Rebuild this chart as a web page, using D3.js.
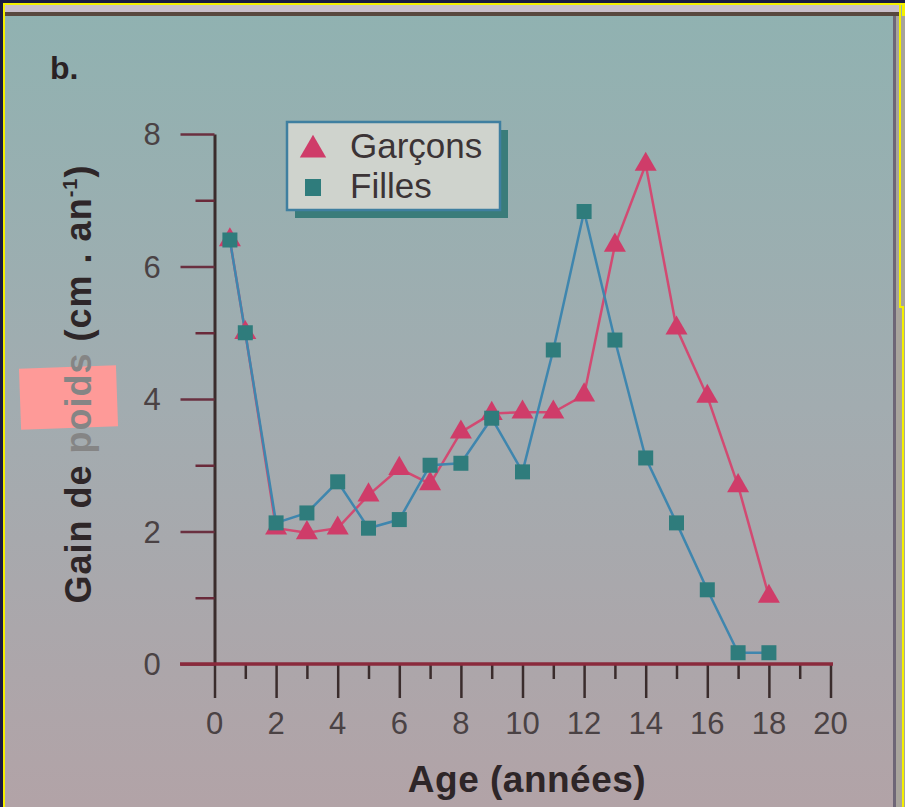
<!DOCTYPE html>
<html>
<head>
<meta charset="utf-8">
<script src="https://cdn.jsdelivr.net/npm/d3@7"></script>
<style>
  body { margin: 0; background: #1a1a3a; }
  svg { display: block; }
  text { font-family: "Liberation Sans", Arial, sans-serif; }
</style>
</head>
<body>
<div id="chart"></div>
<script>
// data
const ageGarcons = [0.5, 1, 2, 3, 4, 5, 6, 7, 8, 9, 10, 11, 12, 13, 14, 15, 16, 17, 18];
const gainGarcons = [6.4, 5.0, 2.05, 1.98, 2.05, 2.55, 2.95, 2.72, 3.5, 3.78, 3.8, 3.8, 4.06, 6.32, 7.54, 5.07, 4.04, 2.69, 1.02];
const ageFilles = [0.5, 1, 2, 3, 4, 5, 6, 7, 8, 9, 10, 11, 12, 13, 14, 15, 16, 17, 18];
const gainFilles = [6.4, 5.0, 2.13, 2.28, 2.75, 2.05, 2.18, 3.0, 3.03, 3.71, 2.9, 4.74, 6.83, 4.89, 3.11, 2.13, 1.12, 0.17, 0.17];
const xTicks = d3.range(0, 21);
const yTicks = d3.range(0, 9);
const legendLabels = ["Garçons", "Filles"];

const width = 905, height = 807;

const svg = d3.select("#chart")
    .append("svg")
    .attr("width", width)
    .attr("height", height);

// background gradient
const defs = svg.append("defs");
const grad = defs.append("linearGradient")
    .attr("id", "bg")
    .attr("x1", 0).attr("y1", 0).attr("x2", 0).attr("y2", 1);
grad.append("stop").attr("offset", "0%").attr("stop-color", "#90b2b1");
grad.append("stop").attr("offset", "50%").attr("stop-color", "#a2acb0");
grad.append("stop").attr("offset", "100%").attr("stop-color", "#b2a3a7");

svg.append("rect").attr("x", 0).attr("y", 0).attr("width", width).attr("height", height).attr("fill", "#1a1a40");
svg.append("rect").attr("x", 3).attr("y", 3).attr("width", width - 3).attr("height", height - 3).attr("fill", "#f5f000");
svg.append("rect").attr("x", 5).attr("y", 5).attr("width", width - 8).attr("height", height - 5).attr("fill", "url(#bg)");
// top bands of the scan
svg.append("rect").attr("x", 5).attr("y", 5).attr("width", width - 10).attr("height", 7).attr("fill", "#c9bfca");
svg.append("rect").attr("x", 5).attr("y", 12).attr("width", width - 10).attr("height", 4).attr("fill", "#58483f");
// right edge
svg.append("rect").attr("x", 893).attr("y", 16).attr("width", 3).attr("height", height - 16).attr("fill", "#6e6676");
svg.append("rect").attr("x", 896).attr("y", 16).attr("width", 9).attr("height", height - 16).attr("fill", "#a8a49c");
svg.append("rect").attr("x", 899).attr("y", 5).attr("width", 2).attr("height", 303).attr("fill", "#f5f000");
svg.append("rect").attr("x", 899).attr("y", 306).attr("width", 5).attr("height", 2).attr("fill", "#f5f000");
svg.append("rect").attr("x", 902).attr("y", 306).attr("width", 2).attr("height", height - 306).attr("fill", "#f5f000");

// scales
const xScale = d3.scaleLinear().domain([0, 20]).range([214.5, 830.5]);
const yScale = d3.scaleLinear().domain([0, 8]).range([664, 134]);

const axisColor = "#3a2c2c";

// y axis
const yAxis = d3.axisLeft(yScale)
    .tickValues(yTicks)
    .tickSizeOuter(0)
    .tickFormat("");
const gy = svg.append("g")
    .attr("transform", "translate(" + xScale(0) + ",0)")
    .call(yAxis);
gy.select(".domain").attr("stroke", axisColor).attr("stroke-width", 3);
gy.selectAll(".tick line")
    .attr("x2", d => d % 2 ? -19 : -34)
    .attr("stroke", d => d % 2 ? "#6a2a3a" : "#6a3040")
    .attr("stroke-width", 2.5);

svg.selectAll(".ylabel")
    .data(yTicks.filter(d => d % 2 === 0))
    .enter()
    .append("text")
    .attr("class", "ylabel")
    .attr("x", 152)
    .attr("y", d => yScale(d) + 11)
    .attr("text-anchor", "middle")
    .attr("font-size", 31)
    .attr("fill", "#4a4244")
    .text(d => d);

// x axis
const xAxis = d3.axisBottom(xScale)
    .tickValues(xTicks)
    .tickSizeOuter(0)
    .tickFormat("");
const gx = svg.append("g")
    .attr("transform", "translate(0," + yScale(0) + ")")
    .call(xAxis);
gx.select(".domain").remove();
gx.selectAll(".tick line")
    .attr("y2", d => d % 2 ? 15 : 34)
    .attr("stroke", axisColor)
    .attr("stroke-width", 2.5);
svg.append("line")
    .attr("x1", 180).attr("x2", 833)
    .attr("y1", yScale(0)).attr("y2", yScale(0))
    .attr("stroke", "#8a2a3c")
    .attr("stroke-width", 3.5);

svg.selectAll(".xlabel")
    .data(xTicks.filter(d => d % 2 === 0))
    .enter()
    .append("text")
    .attr("class", "xlabel")
    .attr("x", d => xScale(d))
    .attr("y", 734)
    .attr("text-anchor", "middle")
    .attr("font-size", 31)
    .attr("fill", "#4a4244")
    .text(d => d);

// axis titles
svg.append("text")
    .attr("x", 527)
    .attr("y", 792)
    .attr("text-anchor", "middle")
    .attr("font-size", 37)
    .attr("font-weight", "bold")
    .attr("letter-spacing", 0.5)
    .attr("fill", "#2e2628")
    .text("Age (années)");

// pink patch over the y title
svg.append("rect")
    .attr("x", 20).attr("y", 367)
    .attr("width", 97).attr("height", 61)
    .attr("fill", "#fe9a98")
    .attr("transform", "rotate(-2,68,397)");

const yTitle = svg.append("text")
    .attr("transform", "translate(91,384) rotate(-90)")
    .attr("text-anchor", "middle")
    .attr("font-size", 36)
    .attr("font-weight", "bold")
    .attr("letter-spacing", 1)
    .attr("fill", "#2e2628");
yTitle.append("tspan").text("Gain de ");
yTitle.append("tspan").attr("fill", "#858585").text("poids");
yTitle.append("tspan").text(" (cm . an");
yTitle.append("tspan").attr("font-size", 20).attr("dy", -14).text("-1");
yTitle.append("tspan").attr("dy", 14).text(")");

svg.append("text")
    .attr("x", 50)
    .attr("y", 79)
    .attr("font-size", 32)
    .attr("font-weight", "bold")
    .attr("fill", "#2a2224")
    .text("b.");

// lines
const redLine = "#d24a72";
const blueLine = "#3f86ae";
const triFill = "#cf3c69";
const sqFill = "#2f7c7c";

const garcons = ageGarcons.map((a, i) => ({ age: a, value: gainGarcons[i] }));
const filles = ageFilles.map((a, i) => ({ age: a, value: gainFilles[i] }));

const lineGenerator = d3.line()
    .x(d => xScale(d.age))
    .y(d => yScale(d.value));

svg.append("path")
    .datum(garcons)
    .attr("d", lineGenerator)
    .attr("fill", "none")
    .attr("stroke", redLine)
    .attr("stroke-width", 2.5);

svg.append("path")
    .datum(filles)
    .attr("d", lineGenerator)
    .attr("fill", "none")
    .attr("stroke", blueLine)
    .attr("stroke-width", 2.5);

const triangle = d3.symbol().type(d3.symbolTriangle).size(210);

svg.selectAll(".tri")
    .data(garcons)
    .enter()
    .append("path")
    .attr("class", "tri")
    .attr("d", triangle)
    .attr("transform", d => "translate(" + xScale(d.age) + "," + yScale(d.value) + ")")
    .attr("fill", triFill);

svg.selectAll(".sq")
    .data(filles)
    .enter()
    .append("rect")
    .attr("class", "sq")
    .attr("x", d => xScale(d.age) - 7.5)
    .attr("y", d => yScale(d.value) - 7.5)
    .attr("width", 15)
    .attr("height", 15)
    .attr("fill", sqFill);

// legend
const legend = svg.append("g").attr("transform", "translate(287,122)");
legend.append("rect")
    .attr("x", 8).attr("y", 8)
    .attr("width", 213).attr("height", 88)
    .attr("fill", "#3a7c7a");
legend.append("rect")
    .attr("x", 0).attr("y", 0)
    .attr("width", 213).attr("height", 88)
    .attr("fill", "#cfd3cd")
    .attr("stroke", "#3f7fa0")
    .attr("stroke-width", 2.5);
legend.append("path")
    .attr("d", d3.symbol().type(d3.symbolTriangle).size(300))
    .attr("transform", "translate(26,28)")
    .attr("fill", triFill);
legend.append("rect")
    .attr("x", 18).attr("y", 57)
    .attr("width", 16).attr("height", 17)
    .attr("fill", sqFill);
legend.selectAll(".ltext")
    .data(legendLabels)
    .enter()
    .append("text")
    .attr("class", "ltext")
    .attr("x", 63)
    .attr("y", (d, i) => 36 + i * 40)
    .attr("font-size", 35)
    .attr("fill", "#3c3436")
    .text(d => d);
</script>
</body>
</html>
